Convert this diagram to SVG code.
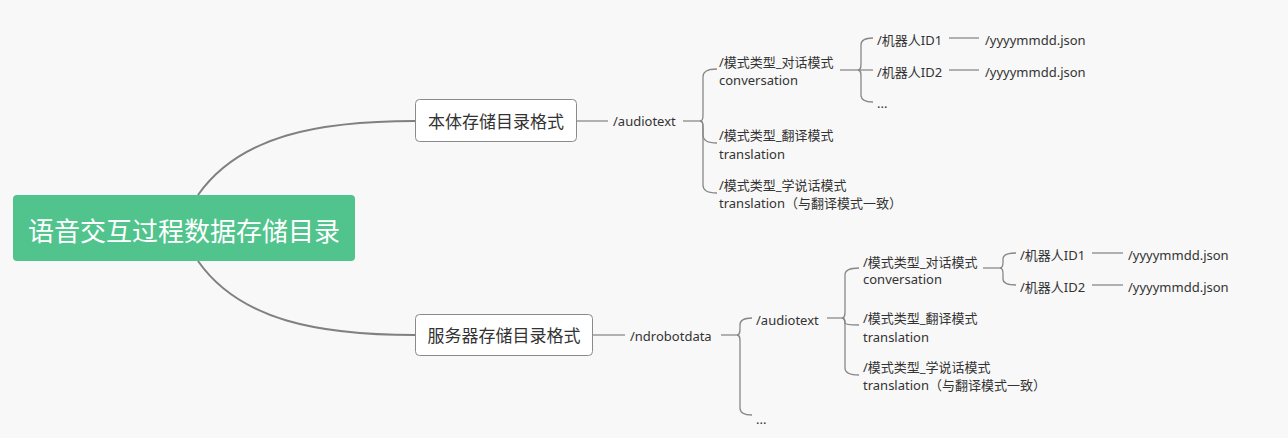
<svg xmlns="http://www.w3.org/2000/svg" width="1288" height="438" viewBox="0 0 1288 438">
<style>
text{font-family:"Noto Sans","Noto Sans CJK SC",sans-serif;fill:#333;}
.t{font-size:13px;}
.b{font-size:17px;}
.r{font-size:26px;fill:#fff;}
.ln{fill:none;stroke:#888;stroke-width:1.3;}
.main{fill:none;stroke:#808080;stroke-width:2;}
.box{fill:#fff;stroke:#8a8a8a;stroke-width:1;}
</style>
<rect width="1288" height="438" fill="#f8f8f8"/>
<g id="connectors">
<path class="main" d="M198,195 C240,135 320,121 415,121"/>
<path class="main" d="M198,261 C240,321 320,335 415,335"/>
<!-- top -->
<path class="ln" d="M577,121 L608,121"/>
<path class="ln" d="M683,121 L700,121"/>
<path class="ln" d="M700,121 C703,121 703,118 703,113 L703,77 C703,72 706,69 717,69"/>
<path class="ln" d="M700,121 C703,121 703,124 703,129 L703,135 C703,140 706,143 717,143"/>
<path class="ln" d="M700,121 C703,121 703,124 703,129 L703,185 C703,190 706,193 717,193"/>
<path class="ln" d="M840,70 L858,70"/>
<path class="ln" d="M858,70 C861,70 861,67 861,63 L861,45 C861,41 864,38 873,38"/>
<path class="ln" d="M858,70 L873,70"/>
<path class="ln" d="M858,70 C861,70 861,73 861,77 L861,95 C861,99 864,102 873,102"/>
<path class="ln" d="M949,38 L979,38"/>
<path class="ln" d="M949,70 L979,70"/>
<!-- bottom -->
<path class="ln" d="M593,335 L625,335"/>
<path class="ln" d="M721,335 L737,335"/>
<path class="ln" d="M737,335 C740,335 740,332 740,328 L740,325 C740,321 743,318 752,318"/>
<path class="ln" d="M737,335 C740,335 740,338 740,342 L740,408 C740,412 743,415 752,415"/>
<path class="ln" d="M827,318 L842,318"/>
<path class="ln" d="M842,318 C845,318 845,315 845,311 L845,275 C845,271 848,268 859,268"/>
<path class="ln" d="M842,318 C845,318 845,321 845,323 C845,324 848,325 859,325"/>
<path class="ln" d="M842,318 C845,318 845,321 845,325 L845,368 C845,372 848,375 859,375"/>
<path class="ln" d="M983,268 L1000,268"/>
<path class="ln" d="M1000,268 C1003,268 1003,265 1003,262 L1003,259 C1003,256 1006,253 1016,253"/>
<path class="ln" d="M1000,268 C1003,268 1003,271 1003,274 L1003,279 C1003,282 1006,285 1016,285"/>
<path class="ln" d="M1092,253 L1123,253"/>
<path class="ln" d="M1092,285 L1123,285"/>
</g>
<g id="root">
<rect x="13" y="195" width="342" height="66" rx="4" fill="#50c48c"/>
<text class="r" x="184" y="241" text-anchor="middle">语音交互过程数据存储目录</text>
</g>
<g id="n-local">
<rect class="box" x="415.5" y="99.5" width="161" height="42" rx="4"/>
<text class="b" x="496" y="127.5" text-anchor="middle">本体存储目录格式</text>
</g>
<g id="n-local-audiotext"><text class="t" x="613" y="125.5">/audiotext</text></g>
<g id="n-local-conv"><text class="t" x="719" y="67">/模式类型_对话模式</text><text class="t" x="719" y="85">conversation</text></g>
<g id="n-local-trans"><text class="t" x="719" y="140">/模式类型_翻译模式</text><text class="t" x="719" y="158.5">translation</text></g>
<g id="n-local-learn"><text class="t" x="719" y="190">/模式类型_学说话模式</text><text class="t" x="719" y="207.5">translation（与翻译模式一致）</text></g>
<g id="n-local-id1"><text class="t" x="877" y="44.5">/机器人ID1</text></g>
<g id="n-local-id2"><text class="t" x="877" y="76.5">/机器人ID2</text></g>
<g id="n-local-more"><text class="t" x="877" y="108">...</text></g>
<g id="n-local-json1"><text class="t" x="985" y="44.5">/yyyymmdd.json</text></g>
<g id="n-local-json2"><text class="t" x="985" y="76.5">/yyyymmdd.json</text></g>
<g id="n-server">
<rect class="box" x="415.5" y="314.5" width="177" height="41" rx="4"/>
<text class="b" x="504" y="341.5" text-anchor="middle">服务器存储目录格式</text>
</g>
<g id="n-server-nd"><text class="t" x="630" y="340.5">/ndrobotdata</text></g>
<g id="n-server-audiotext"><text class="t" x="756" y="324.5">/audiotext</text></g>
<g id="n-server-more"><text class="t" x="756" y="424">...</text></g>
<g id="n-server-conv"><text class="t" x="863" y="266.5">/模式类型_对话模式</text><text class="t" x="863" y="284">conversation</text></g>
<g id="n-server-trans"><text class="t" x="863" y="322.5">/模式类型_翻译模式</text><text class="t" x="863" y="341.5">translation</text></g>
<g id="n-server-learn"><text class="t" x="863" y="371.5">/模式类型_学说话模式</text><text class="t" x="863" y="389.5">translation（与翻译模式一致）</text></g>
<g id="n-server-id1"><text class="t" x="1020" y="259.5">/机器人ID1</text></g>
<g id="n-server-id2"><text class="t" x="1020" y="291.5">/机器人ID2</text></g>
<g id="n-server-json1"><text class="t" x="1128" y="259.5">/yyyymmdd.json</text></g>
<g id="n-server-json2"><text class="t" x="1128" y="291.5">/yyyymmdd.json</text></g>
</svg>
